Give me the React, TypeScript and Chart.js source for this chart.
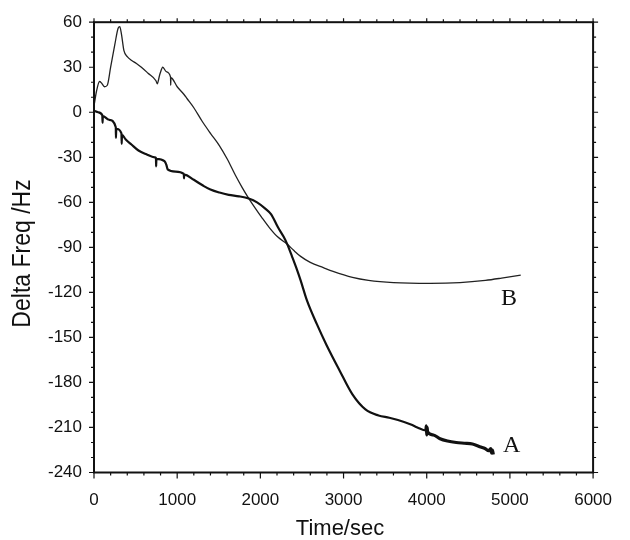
import React, { useEffect, useRef } from "react";
import { Chart, registerables } from "chart.js";

Chart.register(...registerables);

// Curve A (thick, ends near -228 Hz)
const aTime = [0, 50, 100, 103, 106, 180, 262, 264, 267, 330, 333, 336, 379, 450, 535, 630, 730, 745, 747, 750, 847, 870, 885, 980, 1080, 1082, 1085, 1200, 1315, 1400, 1508, 1620, 1743, 1860, 1960, 2055, 2130, 2210, 2280, 2324, 2380, 2444, 2484, 2561, 2678, 2795, 2952, 3107, 3263, 3420, 3550, 3654, 3810, 3888, 3990, 3995, 4000, 4005, 4010, 4080, 4160, 4250, 4355, 4450, 4550, 4650, 4700, 4745, 4770, 4780, 4790, 4800];
const aFreq = [1, 0, -2, -7, -2.5, -5, -10, -17, -11, -14, -21, -15, -18, -21.5, -25.5, -28, -30, -30.5, -36, -31, -32.5, -35, -38, -39.5, -41, -44, -41.5, -45, -49, -51.5, -53.5, -55, -56, -57.5, -60, -64, -68, -76.5, -83, -88, -96, -105.5, -112, -125.5, -141, -155, -172, -188, -198, -202, -203.5, -205, -208, -210, -212, -209, -215, -210, -213, -215, -217.5, -219, -220, -220.5, -221, -223, -224, -225.5, -224, -227, -225, -228];

// Curve B (thin, with early peak, ends near -109 Hz)
const bTime = [0, 30, 67, 90, 126, 160, 200, 250, 290, 310, 330, 360, 400, 453, 510, 570, 650, 745, 760, 790, 827, 870, 920, 922, 925, 1000, 1080, 1120, 1200, 1300, 1400, 1505, 1600, 1700, 1780, 1856, 1940, 2016, 2110, 2207, 2324, 2400, 2484, 2600, 2757, 2874, 3107, 3300, 3600, 4043, 4400, 4706, 4900, 5130];
const bFreq = [4, 14, 20.5, 19.5, 17, 18, 30, 45, 56, 57, 52, 41, 37, 34.5, 32.5, 30, 26, 21, 19, 25, 30, 27, 23.5, 18, 23, 17, 12, 9, 3, -6, -14, -22, -31, -42, -50, -57, -64, -70, -77, -83, -88, -92, -96, -100, -103.5, -106, -110, -112, -113.5, -114, -113.5, -112, -110.5, -108.5];

const xTickValues = [0, 1000, 2000, 3000, 4000, 5000, 6000];
const yTickValues = [60, 30, 0, -30, -60, -90, -120, -150, -180, -210, -240];

const seriesLabels = ["A", "B"];
const labelPos = [
  { x: 5020, y: -222 },
  { x: 4990, y: -124 },
];

const SANS = "'Liberation Sans', Arial, Helvetica, sans-serif";
const SERIF = "'Liberation Serif', 'Times New Roman', serif";

const framePlugin = {
  id: "frame",
  afterDraw(chart: any) {
    const { ctx, chartArea } = chart;
    const xs = chart.scales.x;
    const ys = chart.scales.y;
    const { left, right, top, bottom } = chartArea;
    ctx.save();
    ctx.strokeStyle = "#111";
    ctx.lineWidth = 2;
    ctx.strokeRect(left, top, right - left, bottom - top);
    ctx.lineWidth = 1.2;
    ctx.beginPath();
    for (let v = 0; v <= 6000; v += 200) {
      const px = xs.getPixelForValue(v);
      const major = v % 1000 === 0;
      ctx.moveTo(px, bottom);
      ctx.lineTo(px, bottom + (major ? 6 : 3));
      ctx.moveTo(px, top);
      ctx.lineTo(px, top - (major ? 4 : 3));
    }
    for (let v = -240; v <= 60; v += 10) {
      const py = ys.getPixelForValue(v);
      const major = v % 30 === 0;
      ctx.moveTo(left, py);
      ctx.lineTo(left - (major ? 5 : 3), py);
      ctx.moveTo(right, py);
      ctx.lineTo(right + (major ? 5 : 3), py);
    }
    ctx.stroke();

    // series letters
    ctx.fillStyle = "#111";
    ctx.font = `24px ${SERIF}`;
    ctx.textAlign = "center";
    ctx.textBaseline = "middle";
    seriesLabels.forEach((t, i) => {
      ctx.fillText(t, xs.getPixelForValue(labelPos[i].x), ys.getPixelForValue(labelPos[i].y));
    });

    // axis titles
    ctx.font = `22px ${SANS}`;
    ctx.fillText("Time/sec", 340, 529);
    ctx.translate(23, 253.5);
    ctx.rotate(-Math.PI / 2);
    ctx.font = `23px ${SANS}`;
    ctx.scale(1, 1.12);
    ctx.fillText("Delta Freq /Hz", 0, 0);
    ctx.restore();
  },
};

export default function App() {
  const ref = useRef<HTMLCanvasElement | null>(null);
  useEffect(() => {
    if (!ref.current) return;
    const chart = new Chart(ref.current, {
      type: "line",
      data: {
        datasets: [
          {
            label: "A",
            data: aTime.map((t, i) => ({ x: t, y: aFreq[i] })),
            borderColor: "#111",
            borderWidth: 2.2,
            pointRadius: 0,
            cubicInterpolationMode: "monotone",
            fill: false,
            segment: {
              borderWidth: (c: any) => (c.p0.parsed.x >= 3990 ? 3.2 : 2.2),
            },
          },
          {
            label: "B",
            data: bTime.map((t, i) => ({ x: t, y: bFreq[i] })),
            borderColor: "#222",
            borderWidth: 1.3,
            pointRadius: 0,
            cubicInterpolationMode: "monotone",
            fill: false,
          },
        ],
      },
      options: {
        animation: false,
        responsive: true,
        maintainAspectRatio: false,
        layout: { padding: { left: 0, right: 23, top: 22, bottom: 0 } },
        plugins: { legend: { display: false }, tooltip: { enabled: false } },
        scales: {
          x: {
            type: "linear",
            min: 0,
            max: 6000,
            afterBuildTicks: (s: any) => {
              s.ticks = xTickValues.map((v) => ({ value: v }));
            },
            afterFit: (s: any) => {
              s.height = 67.5;
            },
            ticks: {
              font: { size: 17, family: SANS },
              color: "#111",
              padding: 18,
              maxRotation: 0,
              autoSkip: false,
              callback: (v: any) => String(v),
            },
            grid: { display: false, drawTicks: false },
            border: { display: false },
          },
          y: {
            type: "linear",
            min: -240,
            max: 60,
            afterBuildTicks: (s: any) => {
              s.ticks = yTickValues.map((v) => ({ value: v }));
            },
            afterFit: (s: any) => {
              s.width = 94;
            },
            ticks: {
              font: { size: 17, family: SANS },
              color: "#111",
              padding: 12,
              autoSkip: false,
              callback: (v: any) => String(v),
            },
            grid: { display: false, drawTicks: false },
            border: { display: false },
          },
        },
      },
      plugins: [framePlugin],
    });
    return () => chart.destroy();
  }, []);
  return (
    <div style={{ position: "absolute", left: 0, top: 0, width: 630, height: 540, background: "#fff" }}>
      <canvas ref={ref} />
    </div>
  );
}
